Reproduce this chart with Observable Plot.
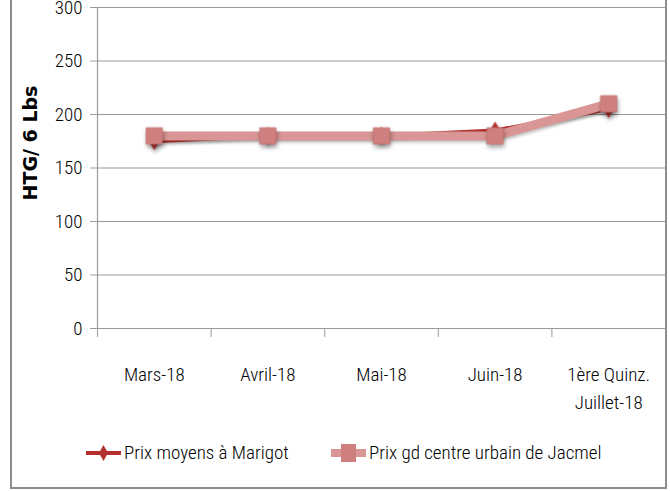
<!DOCTYPE html>
<html>
<head>
<meta charset="utf-8">
<script src="https://cdn.jsdelivr.net/npm/d3@7"></script>
<script src="https://cdn.jsdelivr.net/npm/@observablehq/plot@0.6"></script>
<style>
  html, body { margin: 0; padding: 0; background: #fff; }
  #wrap { position: relative; width: 670px; height: 491px; overflow: hidden; font-family: "Roboto Condensed", "Liberation Sans Narrow", Roboto, sans-serif; font-weight: 300; }
  #frame { position: absolute; left: 10px; top: -6px; width: 657px; height: 495px; border: 2px solid #8c8c8c; box-sizing: border-box; pointer-events: none; }
  #chart { position: absolute; left: 0; top: 0; }
  #chart g[aria-label="dot"] { filter: drop-shadow(1px 3px 2px rgba(0,0,0,0.35)); }
  #chart g[aria-label="line"] { filter: drop-shadow(1px 2px 1.5px rgba(0,0,0,0.25)); }
  .leg { position: absolute; top: 441px; display: flex; align-items: center; font-size: 19px; font-weight: 300; color: #000; white-space: nowrap; }
  .leg svg { display: block; margin-right: 2px; }
</style>
</head>
<body>
<div id="wrap">
  <div id="chart"></div>
  <div id="legend"></div>
  <div id="frame"></div>
</div>
<script>
const categories = ["Mars-18", "Avril-18", "Mai-18", "Juin-18", "1ère Quinz.\nJuillet-18"];
const marigot = [175, 180, 180, 185, 205];
const jacmel = [180, 180, 180, 180, 210];
const yTicks = [0, 50, 100, 150, 200, 250, 300];
const seriesNames = ["Prix moyens à Marigot", "Prix gd centre urbain de Jacmel"];
const yLabel = "HTG/ 6 Lbs";

const colMarigot = "#B3302E";
const colJacmelLine = "#D99694";
const colJacmelDot = "#CF7F7D";

const idx = d3.range(categories.length);
const bounds = d3.range(categories.length + 1).map(i => i - 0.5);
const dMarigot = idx.map(i => ({i, v: marigot[i]}));
const dJacmel = idx.map(i => ({i, v: jacmel[i]}));

const chart = Plot.plot({
  width: 670,
  height: 430,
  marginLeft: 97,
  marginRight: 5,
  marginTop: 7,
  marginBottom: 102,
  style: {fontFamily: '"Roboto Condensed", "Liberation Sans Narrow", Roboto, sans-serif', fontSize: "19px", fontWeight: 300, color: "#000", background: "transparent", overflow: "visible"},
  x: {domain: [bounds[0], bounds[bounds.length - 1]], axis: null},
  y: {domain: [0, 300], axis: null},
  marks: [
    Plot.gridY(yTicks, {stroke: "#9a9a9a", strokeOpacity: 1, strokeWidth: 1.2}),
    Plot.axisY(yTicks, {tickSize: 7, tickPadding: 8, label: null, stroke: "#9a9a9a", fill: "#000", fontSize: 19, fontWeight: 300}),
    Plot.ruleX([bounds[0]], {stroke: "#9a9a9a", strokeWidth: 1.2}),
    Plot.ruleY([0], {stroke: "#9a9a9a", strokeWidth: 1.2}),
    Plot.axisX(bounds, {tickSize: 9, tickFormat: () => "", stroke: "#9a9a9a", label: null}),
    Plot.axisX(idx, {tickSize: 0, tickPadding: 33, tickFormat: i => categories[i], label: null, lineHeight: 1.45, fill: "#000", fontSize: 19, fontWeight: 300}),
    Plot.text([yLabel], {frameAnchor: "left", textAnchor: "middle", rotate: -90, dx: -67, dy: -25, fontWeight: "bold", fontSize: 19, fontFamily: '"DejaVu Sans", Verdana, sans-serif', fill: "#000"}),
    Plot.line(dMarigot, {x: "i", y: "v", stroke: colMarigot, strokeWidth: 4}),
    Plot.dot(dMarigot, {x: "i", y: "v", symbol: "diamond", r: 5.5, fill: colMarigot}),
    Plot.line(dJacmel, {x: "i", y: "v", stroke: colJacmelLine, strokeWidth: 9}),
    Plot.dot(dJacmel, {x: "i", y: "v", symbol: "square", r: 9.2, fill: colJacmelDot, stroke: "#C77573", strokeWidth: 0.8})
  ]
});
document.getElementById("chart").appendChild(chart);

// Legend
const legend = document.getElementById("legend");
const legItems = [
  {name: seriesNames[0], left: 85, svg: `<svg width="37" height="20"><line x1="1" y1="10" x2="36" y2="10" stroke="${colMarigot}" stroke-width="4"/><path d="M18.5,2 L23,10 L18.5,18 L14,10 Z" fill="${colMarigot}"/></svg>`},
  {name: seriesNames[1], left: 330, svg: `<svg width="37" height="20"><line x1="1" y1="10" x2="36" y2="10" stroke="${colJacmelLine}" stroke-width="8"/><rect x="11" y="1" width="15" height="18" fill="${colJacmelDot}"/></svg>`}
];
for (const it of legItems) {
  const el = document.createElement("div");
  el.className = "leg";
  el.style.left = it.left + "px";
  el.innerHTML = it.svg + `<span>${it.name}</span>`;
  legend.appendChild(el);
}
</script>
</body>
</html>
